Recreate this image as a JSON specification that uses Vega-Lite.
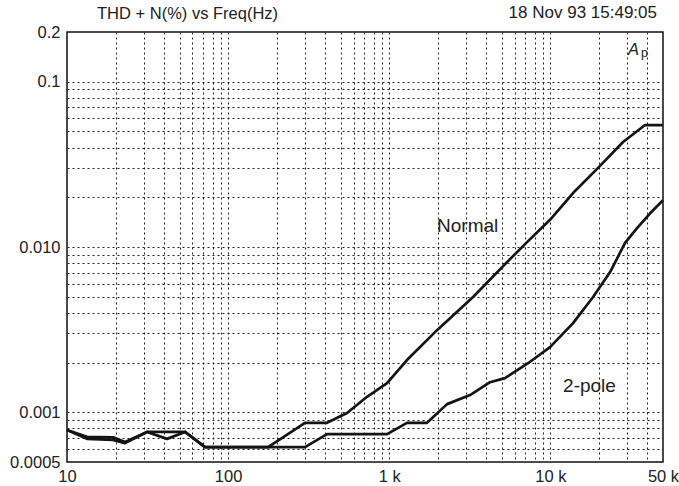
{
  "$schema": "https://vega.github.io/schema/vega-lite/v6.json",
  "autosize": {"type": "none"},
  "padding": {"left": 67, "top": 32, "right": 16, "bottom": 24},
  "width": 596,
  "height": 430,
  "background": "white",
  "config": {
    "view": {"stroke": "#111", "strokeWidth": 1.5},
    "font": "Liberation Sans",
    "axis": {
      "labelFont": "Liberation Sans",
      "labelFontSize": 16.5,
      "labelColor": "#222",
      "ticks": false,
      "domain": false,
      "grid": true,
      "gridColor": "#222",
      "gridDash": [2, 3],
      "gridWidth": 1,
      "labelOverlap": false,
      "labelBound": false,
      "labelFlush": false,
      "title": null
    }
  },
  "datasets": {
    "curves": [
      {"freq": 10, "thd": 0.00078, "series": "Normal"},
      {"freq": 13.3, "thd": 0.00071, "series": "Normal"},
      {"freq": 19.3, "thd": 0.000705, "series": "Normal"},
      {"freq": 22.9, "thd": 0.00066, "series": "Normal"},
      {"freq": 31.4, "thd": 0.00076, "series": "Normal"},
      {"freq": 54, "thd": 0.00076, "series": "Normal"},
      {"freq": 71.9, "thd": 0.000615, "series": "Normal"},
      {"freq": 177, "thd": 0.000615, "series": "Normal"},
      {"freq": 300, "thd": 0.000863, "series": "Normal"},
      {"freq": 411, "thd": 0.000863, "series": "Normal"},
      {"freq": 547, "thd": 0.00099, "series": "Normal"},
      {"freq": 728, "thd": 0.00124, "series": "Normal"},
      {"freq": 969, "thd": 0.0015, "series": "Normal"},
      {"freq": 1288, "thd": 0.00207, "series": "Normal"},
      {"freq": 1980, "thd": 0.00314, "series": "Normal"},
      {"freq": 3313, "thd": 0.00498, "series": "Normal"},
      {"freq": 5385, "thd": 0.0081, "series": "Normal"},
      {"freq": 7165, "thd": 0.0107, "series": "Normal"},
      {"freq": 9950, "thd": 0.0146, "series": "Normal"},
      {"freq": 13830, "thd": 0.0212, "series": "Normal"},
      {"freq": 19770, "thd": 0.0301, "series": "Normal"},
      {"freq": 28250, "thd": 0.0432, "series": "Normal"},
      {"freq": 38700, "thd": 0.0547, "series": "Normal"},
      {"freq": 50000, "thd": 0.0547, "series": "Normal"},
      {"freq": 10, "thd": 0.00078, "series": "2-pole"},
      {"freq": 13.3, "thd": 0.00069, "series": "2-pole"},
      {"freq": 19.3, "thd": 0.00068, "series": "2-pole"},
      {"freq": 22.9, "thd": 0.00065, "series": "2-pole"},
      {"freq": 31.4, "thd": 0.00076, "series": "2-pole"},
      {"freq": 41.8, "thd": 0.00069, "series": "2-pole"},
      {"freq": 54, "thd": 0.00076, "series": "2-pole"},
      {"freq": 71.9, "thd": 0.000615, "series": "2-pole"},
      {"freq": 300, "thd": 0.000615, "series": "2-pole"},
      {"freq": 411, "thd": 0.000738, "series": "2-pole"},
      {"freq": 969, "thd": 0.000738, "series": "2-pole"},
      {"freq": 1288, "thd": 0.000863, "series": "2-pole"},
      {"freq": 1716, "thd": 0.000863, "series": "2-pole"},
      {"freq": 2285, "thd": 0.00112, "series": "2-pole"},
      {"freq": 3174, "thd": 0.00127, "series": "2-pole"},
      {"freq": 4224, "thd": 0.00152, "series": "2-pole"},
      {"freq": 5234, "thd": 0.00161, "series": "2-pole"},
      {"freq": 7270, "thd": 0.00198, "series": "2-pole"},
      {"freq": 9950, "thd": 0.00248, "series": "2-pole"},
      {"freq": 13830, "thd": 0.00346, "series": "2-pole"},
      {"freq": 18410, "thd": 0.00498, "series": "2-pole"},
      {"freq": 23480, "thd": 0.00705, "series": "2-pole"},
      {"freq": 29090, "thd": 0.0106, "series": "2-pole"},
      {"freq": 34500, "thd": 0.013, "series": "2-pole"},
      {"freq": 41590, "thd": 0.016, "series": "2-pole"},
      {"freq": 50000, "thd": 0.0192, "series": "2-pole"}
    ],
    "labels": [
      {"freq": 1980, "thd": 0.01236, "text": "Normal"},
      {"freq": 11990, "thd": 0.001329, "text": "2-pole"}
    ],
    "heading": [
      {"freq": 15.36, "thd": 0.2387, "text": "THD + N(%) vs Freq(Hz)"}
    ],
    "stamp": [
      {"freq": 45900, "thd": 0.2414, "text": "18 Nov 93 15:49:05"}
    ],
    "symbolA": [
      {"freq": 30360, "thd": 0.1451, "text": "A"}
    ],
    "symbolP": [
      {"freq": 36560, "thd": 0.1411, "text": "p"}
    ]
  },
  "encoding": {
    "x": {
      "field": "freq",
      "type": "quantitative",
      "scale": {"type": "log", "domain": [10, 50000], "nice": false},
      "axis": {
        "values": [10, 20, 30, 40, 50, 60, 70, 80, 90, 100, 200, 300, 400, 500, 600, 700, 800, 900, 1000, 2000, 3000, 4000, 5000, 6000, 7000, 8000, 9000, 10000, 20000, 30000, 40000, 50000],
        "labelExpr": "datum.value == 10 ? '10' : datum.value == 100 ? '100' : datum.value == 1000 ? '1 k' : datum.value == 10000 ? '10 k' : datum.value == 50000 ? '50 k' : ''",
        "labelPadding": 6,
        "gridOpacity": {"condition": {"test": "datum.value == 10 || datum.value == 50000", "value": 0}, "value": 1}
      }
    },
    "y": {
      "field": "thd",
      "type": "quantitative",
      "scale": {"type": "log", "domain": [0.0005, 0.2], "nice": false},
      "axis": {
        "values": [0.0005, 0.0006, 0.0007, 0.0008, 0.0009, 0.001, 0.002, 0.003, 0.004, 0.005, 0.006, 0.007, 0.008, 0.009, 0.01, 0.02, 0.03, 0.04, 0.05, 0.06, 0.07, 0.08, 0.09, 0.1, 0.2],
        "labelExpr": "datum.value == 0.2 ? '0.2' : datum.value == 0.1 ? '0.1' : datum.value == 0.01 ? '0.010' : datum.value == 0.001 ? '0.001' : datum.value == 0.0005 ? '0.0005' : ''",
        "labelPadding": 7,
        "gridOpacity": {"condition": {"test": "datum.value == 0.0005 || datum.value == 0.2", "value": 0}, "value": 1}
      }
    }
  },
  "layer": [
    {
      "data": {"name": "curves"},
      "mark": {"type": "line", "color": "#141414", "strokeWidth": 2.7, "strokeJoin": "round"},
      "encoding": {"detail": {"field": "series", "type": "nominal"}}
    },
    {
      "data": {"name": "labels"},
      "mark": {"type": "text", "align": "left", "baseline": "alphabetic", "fontSize": 19, "color": "#222", "font": "Liberation Sans"},
      "encoding": {"text": {"field": "text"}}
    },
    {
      "data": {"name": "heading"},
      "mark": {"type": "text", "align": "left", "baseline": "alphabetic", "fontSize": 16.5, "color": "#222", "font": "Liberation Sans", "clip": false},
      "encoding": {"text": {"field": "text"}}
    },
    {
      "data": {"name": "stamp"},
      "mark": {"type": "text", "align": "right", "baseline": "alphabetic", "fontSize": 17, "color": "#222", "font": "Liberation Sans", "clip": false},
      "encoding": {"text": {"field": "text"}}
    },
    {
      "data": {"name": "symbolA"},
      "mark": {"type": "text", "align": "left", "baseline": "alphabetic", "fontSize": 16.5, "fontStyle": "italic", "color": "#222", "font": "Liberation Sans"},
      "encoding": {"text": {"field": "text"}}
    },
    {
      "data": {"name": "symbolP"},
      "mark": {"type": "text", "align": "left", "baseline": "alphabetic", "fontSize": 12.5, "color": "#222", "font": "Liberation Sans"},
      "encoding": {"text": {"field": "text"}}
    }
  ]
}
